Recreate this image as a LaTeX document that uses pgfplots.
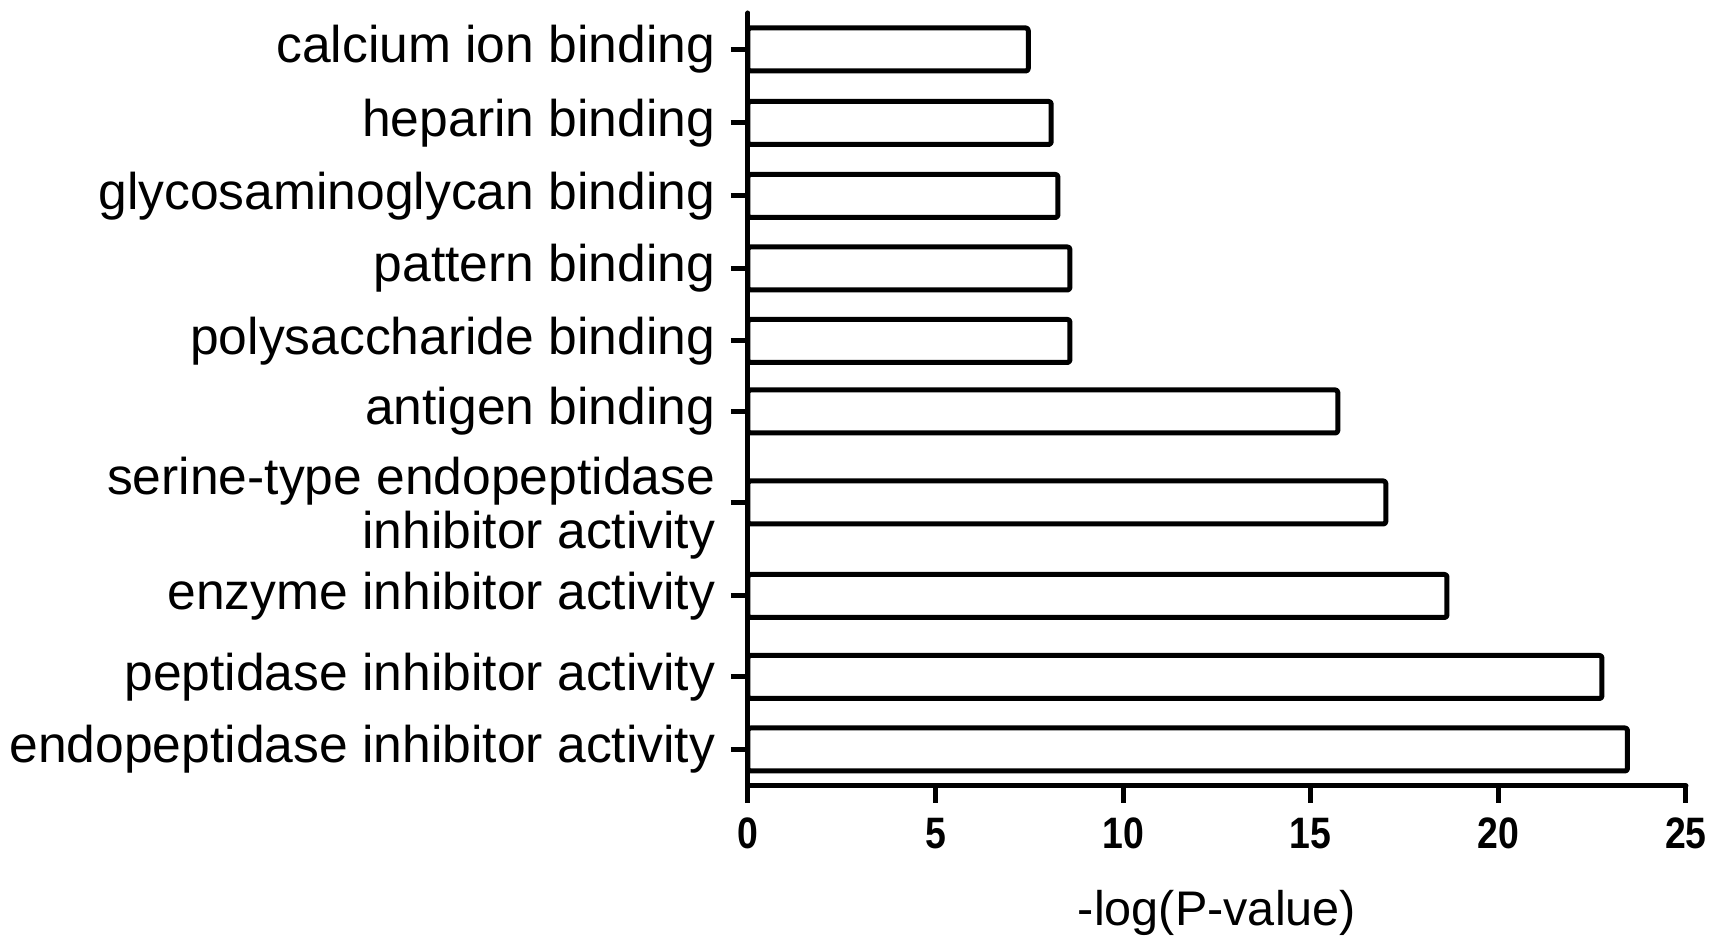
\documentclass[border=0pt]{standalone}
\usepackage{pgfplots}
\pgfplotsset{compat=1.18}
\usepackage{fontspec}
\setmainfont{Liberation Sans}
\newfontfamily\tickfont[FakeStretch=0.85]{Liberation Sans Bold}
\begin{document}
\begin{tikzpicture}
\useasboundingbox (-187pt,-40.5pt) rectangle (242.25pt,196.5pt);
\begin{axis}[
  at={(0pt,0pt)}, anchor=south west,
  width=234.5pt, height=193.25pt, scale only axis,
  xmin=0, xmax=25, ymin=0, ymax=773,
  axis x line=bottom, axis y line=left,
  axis line style={line width=1.25pt, -, line cap=round},
  xtick={0,5,10,15,20,25},
  ytick={36.5,109,190,283.5,374.5,445,517.5,590,663,736.5},
  yticklabels={endopeptidase inhibitor activity,
    peptidase inhibitor activity,
    enzyme inhibitor activity,
    {\rule{0pt}{12.2pt}serine-type endopeptidase\\inhibitor activity},
    antigen binding,
    polysaccharide binding,
    pattern binding,
    glycosaminoglycan binding,
    heparin binding,
    calcium ion binding},
  tick align=outside, major tick length=4.25pt,
  tick style={line width=1.25pt, black},
  /pgf/number format/assume math mode=true,
  xticklabel style={font=\fontsize{11}{12}\tickfont, inner sep=0pt, anchor=north, yshift=-3.5pt},
  yticklabel style={font=\fontsize{12.9}{13.5}\selectfont, inner sep=0pt, anchor=east, align=right, xshift=-3.75pt},
  xlabel={-log(P-value)},
  xlabel style={font=\fontsize{12.15}{13}\selectfont, at={(axis description cs:0.5,0)}, anchor=center, yshift=-31.75pt, inner sep=0pt},
  clip=false,
]
\addplot[xbar, bar width=43, fill=white, draw=black, line width=1.25pt, line join=round, rounded corners=0.6pt]
  coordinates {
  (23.44,36.5)
  (22.76,109)
  (18.63,190)
  (17.0,283.5)
  (15.72,374.5)
  (8.58,445)
  (8.58,517.5)
  (8.26,590)
  (8.08,663)
  (7.47,736.5)
  };
\end{axis}
\end{tikzpicture}
\end{document}
